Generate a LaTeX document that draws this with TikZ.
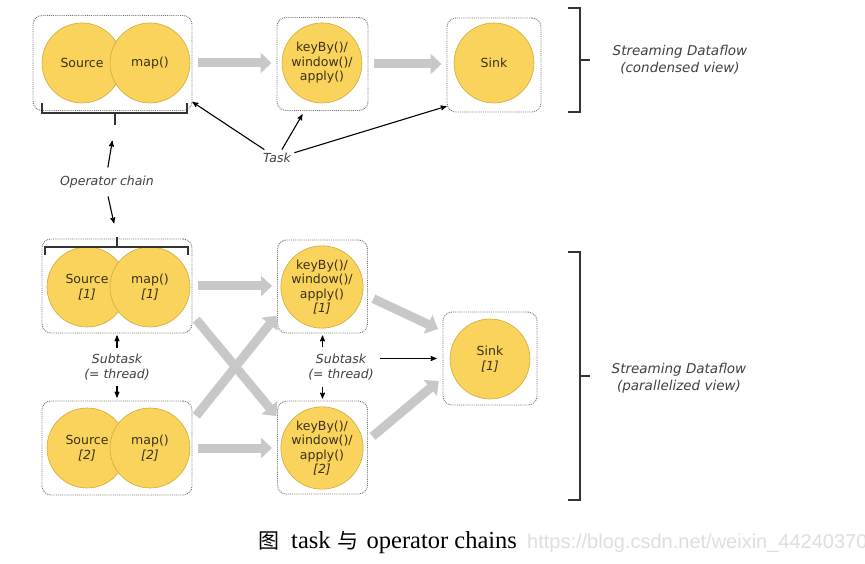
\documentclass[tikz,border=0pt]{standalone}
\usepackage{fontspec}
\usepackage{xcolor}
\usepackage{tikz}
\usetikzlibrary{arrows, arrows.meta, calc}
\newfontfamily\diagfont{DejaVu Sans}
\newfontfamily\capfont{Liberation Serif}
\newfontfamily\cjkfont{Noto Sans CJK SC}
\newfontfamily\urlfont{Liberation Sans}
\definecolor{opfill}{HTML}{F9D35B}
\definecolor{opline}{HTML}{D2AA3C}
\definecolor{optext}{HTML}{3A3218}
\definecolor{flowgray}{HTML}{C8C8C8}
\definecolor{notegray}{HTML}{404040}
\tikzset{
    opnode/.style = {circle, minimum size=80pt, inner sep=0pt, align=center,
        fill=opfill, draw=opline, line width=0.6pt, text=optext,
        font=\diagfont\fontsize{12.5}{14.5}\selectfont},
    taskbox/.style = {draw=gray!90!black, densely dotted, line width=0.9pt,
        rounded corners=9pt, fill=white, inner sep=0pt},
    flow/.style = {-{Triangle[length=11pt,width=20pt]}, draw=flowgray,
        line width=9pt, shorten <=6pt, shorten >=5pt},
    note/.style = {align=center, text=notegray,
        font=\diagfont\itshape\fontsize{12.5}{15}\selectfont},
    view/.style = {note, font=\diagfont\itshape\fontsize{13.5}{17}\selectfont},
    callout/.style = {->, line width=1.1pt, black},
    bracket/.style = {draw=black!80, line width=1.4pt},
}

\begin{document}
\begin{tikzpicture}[>=stealth', x=1pt, y=1pt]
    \useasboundingbox (0,0) rectangle (865,563);
    % condensed view
    \node (ta) [taskbox, minimum width=159pt, minimum height=95pt] at (112.5,500) {};
    \node (srcA) [opnode] at (82,500) {Source};
    \node (mapA) [opnode] at (150,500) {map()};
    \node (tb) [taskbox, minimum width=91pt, minimum height=93pt] at (322.5,499) {};
    \node (keyA) [opnode] at (322,500) {keyBy()/\\window()/\\apply()};
    \node (tc) [taskbox, minimum width=94pt, minimum height=94pt] at (494,498) {};
    \node (sinkA) [opnode] at (494,500) {Sink};
    \draw[flow] (ta.east) -- (ta.east -| tb.west);
    \draw[flow] (tb.east) -- (tb.east -| tc.west);
    \draw[bracket] (42,460) |- (187,450) -- (187,460);
    \draw[bracket] (115,450) -- (115,438) coordinate (chainA);
    \draw[bracket] (568,555) -| (580,451) -- (568,451);
    \draw[bracket] (580,503) -- (590,503);
    \node (viewA) [view] at (680,503) {Streaming Dataflow\\(condensed view)};
    \node (task) [note] at (277,405) {Task};
    \draw[callout] (task) -- (ta.-26);
    \draw[callout, shorten >=4pt] (task) -- (tb.-111);
    \draw[callout] (task) -- (tc.221);
    \node (chain) [note] at (107,381) {Operator chain};

    % parallelized view
    \node (l1) [taskbox, minimum width=150pt, minimum height=94pt] at (117,277) {};
    \node (src1) [opnode] at (87,276) {Source\\\textit{[1]}};
    \node (map1) [opnode] at (150,276) {map()\\\textit{[1]}};
    \node (l2) [taskbox, minimum width=150pt, minimum height=94pt] at (117,115) {};
    \node (src2) [opnode] at (87,115) {Source\\\textit{[2]}};
    \node (map2) [opnode] at (150,115) {map()\\\textit{[2]}};
    \node (m1) [taskbox, minimum width=90pt, minimum height=93pt] at (322.5,276.5) {};
    \node (key1) [opnode] at (322,276) {keyBy()/\\window()/\\apply()\\\textit{[1]}};
    \node (m2) [taskbox, minimum width=90pt, minimum height=93pt] at (322.5,115.5) {};
    \node (key2) [opnode] at (322,115) {keyBy()/\\window()/\\apply()\\\textit{[2]}};
    \node (sk) [taskbox, minimum width=94pt, minimum height=93pt] at (490,204.5) {};
    \node (sink1) [opnode] at (490,204) {Sink\\\textit{[1]}};
    \draw[flow] (l1.east) -- (l1.east -| m1.west);
    \draw[flow] (l2.east) -- (l2.east -| m2.west);
    \draw[flow, shorten >=1pt] (l1.-21) -- (m2.146);
    \draw[flow, shorten >=1pt] (l2.20) -- (m1.212);
    \draw[flow] (m1.-12) -- (sk.150);
    \draw[flow] (m2.9) -- (sk.202);
    \draw[bracket] (45,308) |- (188,316) -- (188,308);
    \draw[bracket] (117,316) -- (117,326) coordinate (chainB);
    \draw[bracket] (568,311) -| (580,63) -- (568,63);
    \draw[bracket] (580,187) -- (590,187);
    \node (viewB) [view] at (679,185) {Streaming Dataflow\\(parallelized view)};
    \draw[callout, shorten <=5pt, shorten >=16pt] (chain.north) -- (chainA);
    \draw[callout, shorten <=5pt, shorten >=14pt] (chain.south) -- (chainB);
    \node (subA) [note] at (117,196) {Subtask\\(= thread)};
    \draw[callout, shorten <=2pt, shorten >=2pt] (subA) -- (l1.south);
    \draw[callout, shorten <=2pt, shorten >=3pt] (subA) -- (l2.north);
    \node (subB) [note] at (341,196) {Subtask\\(= thread)};
    \draw[callout, shorten <=3pt, shorten >=2pt] (subB.north -| m1.south) -- (m1.south);
    \draw[callout, shorten <=3pt, shorten >=2pt] (subB.south -| m2.north) -- (m2.north);
    \draw[callout, shorten <=3pt, shorten >=6pt] (subB.east |- sk.west) -- (sk.west);

    % caption
    \node (cap) [anchor=base west, inner sep=0pt, font=\capfont\fontsize{24.5}{29}\selectfont]
        at (258,15) {{\cjkfont\fontsize{21}{25}\selectfont 图}\hspace{12pt}task\hspace{7pt}{\cjkfont\fontsize{21}{25}\selectfont 与}\hspace{8pt}operator chains};
    \node (url) [anchor=base west, inner sep=0pt, text=black!13,
        font=\urlfont\fontsize{20}{24}\selectfont] at (527,15) {https://blog.csdn.net/weixin\_44240370};
\end{tikzpicture}
\end{document}
